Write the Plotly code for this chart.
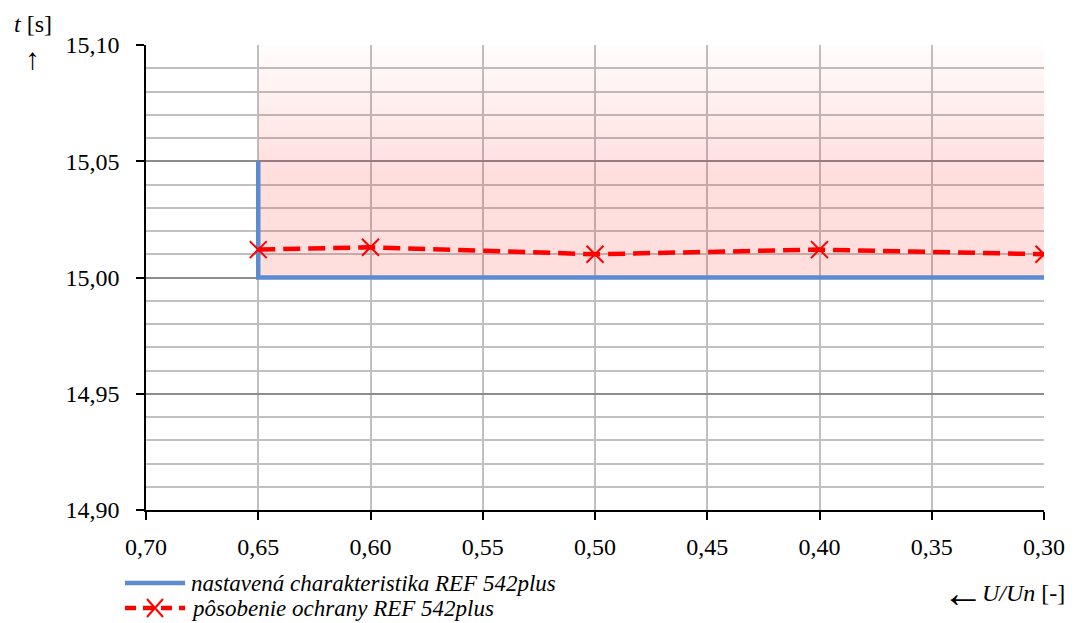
import plotly.graph_objects as go

# --- data ---
set_x = [0.65, 0.65, 0.30]
set_t = [15.05, 15.00, 15.00]

meas_x = [0.65, 0.60, 0.50, 0.40, 0.30]
meas_t = [15.012, 15.013, 15.010, 15.012, 15.010]

zone_x = [0.65, 0.30, 0.30, 0.65, 0.65]
zone_t = [15.00, 15.00, 15.10, 15.10, 15.00]

x_ticks = [0.70, 0.65, 0.60, 0.55, 0.50, 0.45, 0.40, 0.35, 0.30]
y_ticks = [14.90, 14.95, 15.00, 15.05, 15.10]

name_set = "nastavená charakteristika REF 542plus"
name_meas = "pôsobenie ochrany REF 542plus"

FONT = "Liberation Serif"
BLUE = "#5B8CD2"
RED = "#FF0000"

# page has an 8px body margin; figure is sized to fill the rest of the window
W, H = 1070, 615
L, T, R, B = 138, 37, 34, 113
PW, PH = W - L - R, H - T - B


def px(fx):
    return (fx - L) / PW


def py(fy):
    return (H - B - fy) / PH


fig = go.Figure()

fig.add_trace(go.Scatter(
    x=zone_x, y=zone_t, mode="none", fill="toself",
    fillgradient=dict(type="vertical",
                      colorscale=[[0, "rgba(255,0,0,0.13)"], [0.45, "rgba(255,0,0,0.13)"],
                                  [1, "rgba(255,0,0,0.01)"]]),
    showlegend=False, hoverinfo="skip"))

fig.add_trace(go.Scatter(
    x=set_x, y=set_t, mode="lines", name=name_set, showlegend=False,
    line=dict(color=BLUE, width=4.5)))

fig.add_trace(go.Scatter(
    x=meas_x, y=meas_t, mode="lines+markers", name=name_meas, showlegend=False,
    line=dict(color=RED, width=4.5, dash="17px,8px"),
    marker=dict(symbol="x-thin", size=17, line=dict(color=RED, width=2), color=RED)))

# manual legend (sample lines + texts)
leg_y1, leg_y2 = 575, 600
shapes = [
    dict(type="line", xref="paper", yref="paper", x0=px(117), x1=px(177),
         y0=py(leg_y1), y1=py(leg_y1), line=dict(color=BLUE, width=4.5)),
    dict(type="line", xref="paper", yref="paper", x0=px(117), x1=px(177),
         y0=py(leg_y2), y1=py(leg_y2), line=dict(color=RED, width=4.5, dash="11px,7px")),
    dict(type="path", xref="paper", yref="paper", xsizemode="pixel", ysizemode="pixel",
         xanchor=px(147), yanchor=py(leg_y2),
         path="M -8 -9 L 8 9 M -8 9 L 8 -9", line=dict(color=RED, width=2)),
]

fig.update_layout(
    width=W, height=H,
    margin=dict(l=L, r=R, t=T, b=B, autoexpand=False),
    paper_bgcolor="white", plot_bgcolor="white",
    separators=", ",
    showlegend=False,
    font=dict(family=FONT, size=24, color="black"),
    xaxis=dict(range=[0.70, 0.30], tickvals=x_ticks, tickformat=".2f",
               showgrid=True, gridcolor="#C0C0C0", gridwidth=1.5,
               showline=True, linecolor="black", linewidth=1.5,
               ticks="outside", ticklen=8, tickcolor="black", tickwidth=1.5,
               ticklabelstandoff=6, zeroline=False),
    yaxis=dict(range=[14.90, 15.10], tickvals=y_ticks, tickformat=".2f",
               showgrid=True, gridcolor="#8C8C8C", gridwidth=1.5,
               minor=dict(dtick=0.01, showgrid=True, gridcolor="#C0C0C0", gridwidth=1.5),
               showline=True, linecolor="black", linewidth=1.5,
               ticks="outside", ticklen=8, tickcolor="black", tickwidth=1.5,
               ticklabelstandoff=12, zeroline=False),
    shapes=shapes,
    annotations=[
        dict(text="<i>t</i> [s]", xref="paper", yref="paper", x=px(4), y=py(16),
             xanchor="left", yanchor="middle", showarrow=False, font=dict(size=24)),
        dict(text="↑", xref="paper", yref="paper", x=px(25), y=py(50),
             xanchor="center", yanchor="middle", showarrow=False,
             font=dict(size=30, color="black")),
        dict(text="←", xref="paper", yref="paper", x=px(955), y=py(585),
             xanchor="center", yanchor="middle", showarrow=False, height=26,
             font=dict(size=42, color="black")),
        dict(text="<i>U/Un</i> [-]", xref="paper", yref="paper", x=px(1059), y=py(585),
             xanchor="right", yanchor="middle", showarrow=False, font=dict(size=24)),
        dict(text="<i>" + name_set + "</i>", xref="paper", yref="paper", x=px(181), y=py(leg_y1),
             xanchor="left", yanchor="middle", showarrow=False, font=dict(size=23)),
        dict(text="<i>" + name_meas + "</i>", xref="paper", yref="paper", x=px(181), y=py(leg_y2),
             xanchor="left", yanchor="middle", showarrow=False, font=dict(size=23)),
    ],
)

fig.write_html("out.html")
